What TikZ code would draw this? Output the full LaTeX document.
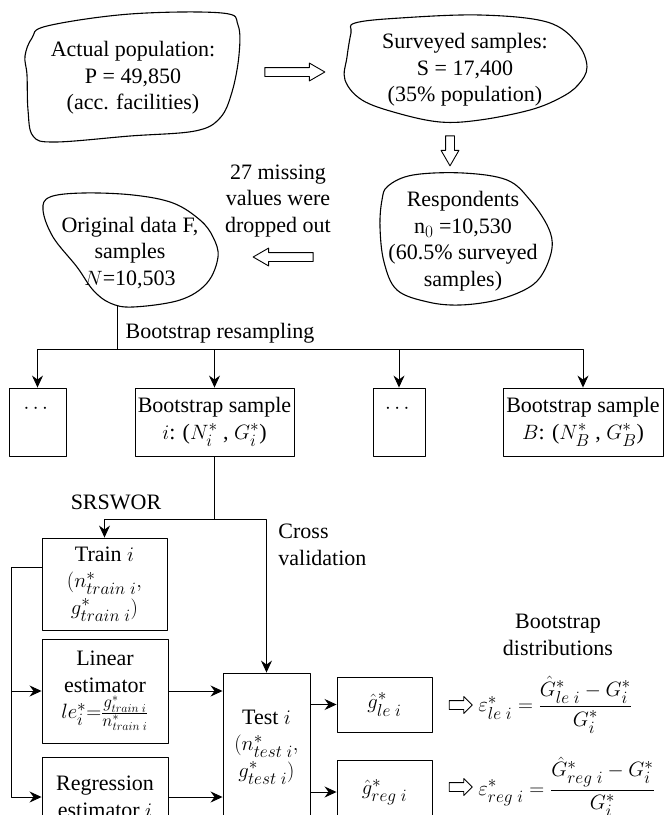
\documentclass[tikz,border=0pt]{standalone}
\usepackage{amsmath}
\usepackage{fontspec}
\setmainfont{Liberation Serif}
\usetikzlibrary{arrows.meta, shapes.arrows, calc, positioning}
\DeclareMathSizes{22}{22}{16.5}{13}

\tikzset{
  arr/.style={-{Stealth[length=12pt, width=11pt, inset=4pt]}},
  blobline/.style={line width=1.1pt},
  plaintext/.style={align=center, inner sep=0pt},
  databox/.style={draw, align=center, inner sep=2pt},
  hollowbig/.style={draw, single arrow, single arrow tip angle=60, single arrow head extend=4.5pt, inner sep=4pt, minimum height=60pt},
  hollowsmall/.style={draw, single arrow, single arrow head extend=4pt, inner sep=4pt, minimum height=23pt}
}
\newcommand{\subsp}{\mkern5mu}

\begin{document}
\begin{tikzpicture}[x=1pt, y=-1pt, line width=0.9pt, line join=round, font=\fontsize{22}{26.5}\selectfont]
    \useasboundingbox (0,0) rectangle (664,815);
    \clip (0,0) rectangle (664,815);

    % survey stage
    \node[plaintext] (pop) at (133,78) {Actual population:\\P = 49,850\\(acc. facilities)};
    \node[plaintext] (surv) at (465,70) {Surveyed samples:\\S = 17,400\\(35\% population)};
    \node[plaintext] (resp) at (463,241) {Respondents\\n$_0$ =10,530\\(60.5\% surveyed\\samples)};
    \node[plaintext] (orig) at (130,253) {Original data F,\\samples\\$N$=10,503};
    \node[plaintext] (miss) at (278,201) {27 missing\\values were\\dropped out};

    \draw[blobline] plot[smooth cycle, tension=0.6] coordinates {(47,26) (130,14) (222,13) (238,25) (239,55) (232,92) (220,118) (195,131) (130,136) (55,142) (33,136) (28,110) (27,75) (25,56) (32,38)};
    \draw[blobline] plot[smooth cycle, tension=0.6] coordinates {(355,23) (400,18) (480,15) (547,22) (577,43) (587,67) (578,85) (560,98) (530,110) (480,120) (440,122) (397,113) (362,100) (345,80) (347,57) (351,33)};
    \draw[blobline] plot[smooth cycle, tension=0.6] coordinates {(388,186) (413,175) (463,173) (507,180) (530,200) (548,227) (552,248) (543,273) (528,288) (497,300) (460,305) (428,302) (397,290) (384,262) (380,227) (382,200)};
    \draw[blobline] plot[smooth cycle, tension=0.6] coordinates {(50,197) (83,193) (133,195) (173,203) (200,220) (213,237) (218,257) (207,283) (180,300) (133,307) (110,303) (93,290) (77,267) (53,237) (43,210)};

    \node[hollowbig] (h1) at (291,72) {};
    \node[hollowbig, minimum height=30pt, shape border rotate=270] (h2) at (450,147) {};
    \node[hollowbig, shape border rotate=180] (h3) at (287,257) {};

    % bootstrap resampling
    \node[plaintext] (resamp) at (220,333) {Bootstrap resampling};
    \node[databox, minimum width=57, minimum height=68] (bs1) at (37.5,422) {$\cdots$\\\mbox{}};
    \node[databox, minimum width=159, minimum height=68] (bsi) at (214.5,422) {Bootstrap sample\\$i$: ($N_i^*$ , $G_i^*$)};
    \node[databox, minimum width=52, minimum height=68] (bs3) at (399,422) {$\cdots$\\\mbox{}};
    \node[databox, minimum width=160, minimum height=68] (bsB) at (583,422) {Bootstrap sample\\$B$: ($N_B^*$ , $G_B^*$)};

    \coordinate (origfoot) at (117,306);
    \coordinate (split) at (117,349);
    \draw (origfoot) -- (split);
    \foreach \b in {bs1,bsi,bs3,bsB}
        \draw[arr] (split) -| (\b);

    % train / test split
    \node[plaintext] (srs) at (116,502) {SRSWOR};
    \node[plaintext, align=left, anchor=west] (cv) at (278,545) {Cross\\validation};
    \node[databox, minimum width=125, minimum height=92] (train) at (104.5,584) {Train $i$\\$(n^*_{train\subsp i},$\\$g^*_{train\subsp i})$};
    \node[databox, minimum width=126, minimum height=104, inner sep=1pt] (lin) at (105,691) {Linear\\estimator\\$le_i^* {=} \frac{g^*_{train\subsp i}}{n^*_{train\subsp i}}$};
    \node[databox, minimum width=126, minimum height=80] (reg) at (105,797) {Regression\\estimator $i$};
    \node[databox, minimum width=87, minimum height=148] (test) at (266.5,747) {Test $i$\\$(n^*_{test\subsp i},$\\$g^*_{test\subsp i})$};
    \node[databox, minimum width=95, minimum height=55] (gle) at (384.5,704.5) {$\hat{g}^*_{le\subsp i}$};
    \node[databox, minimum width=95, minimum height=64] (greg) at (384.5,792) {$\hat{g}^*_{reg\subsp i}$};

    \coordinate (fork) at (bsi.south |- 0,519);
    \draw (bsi) -- (fork);
    \draw[arr] (fork) -| (train);
    \draw[arr] (fork) -| (test);
    \draw[arr] ([yshift=17pt]train.west) -- ++(-30,0) coordinate (bus) |- (reg);
    \draw[arr] (bus) |- (lin);
    \draw[arr] (lin) -- (lin -| test.west);
    \draw[arr] (reg) -- (reg -| test.west);
    \draw[arr] (test.east |- gle) -- (gle);
    \draw[arr] (test.east |- greg) -- (greg);

    % error distributions
    \node[plaintext] (dist) at (558,635) {Bootstrap\\distributions};
    \node[hollowsmall] (s1) at (458.5,705) {};
    \node[hollowsmall] (s2) at (458.5,787) {};
    \node[anchor=west, inner sep=0pt] (errle) at (478,705) {$\varepsilon^*_{le\subsp i} = \dfrac{\hat{G}^*_{le\subsp i} - G^*_i}{G^*_i}$};
    \node[anchor=west, inner sep=0pt] (errreg) at (478,787) {$\varepsilon^*_{reg\subsp i} = \dfrac{\hat{G}^*_{reg\subsp i} - G^*_i}{G^*_i}$};
\end{tikzpicture}
\end{document}
